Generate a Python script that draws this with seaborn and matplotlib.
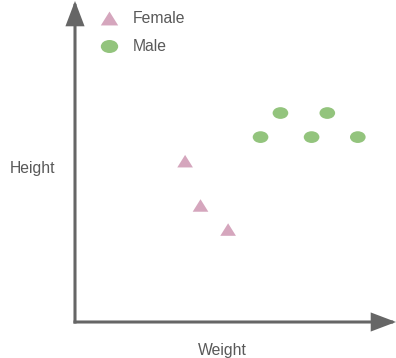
import matplotlib
matplotlib.use("Agg")
import matplotlib.pyplot as plt
import seaborn as sns
import pandas as pd
from matplotlib.path import Path
from matplotlib.transforms import Affine2D
from matplotlib.patches import ArrowStyle

# --- DATA ---
sexes = ["Female", "Male"]
female_weight = [34.3, 39.1, 47.7]
female_height = [50.1, 36.3, 28.8]
male_weight = [64.0, 78.6, 57.8, 73.7, 88.1]
male_height = [65.1, 65.1, 57.6, 57.6, 57.6]

PINK = "#d5a6bd"
GREEN = "#93c47d"
AXIS_GREY = "#666666"
TEXT_GREY = "#595959"

df = pd.DataFrame({
    "Weight": female_weight + male_weight,
    "Height": female_height + male_height,
    "sex": ["Female"] * len(female_weight) + ["Male"] * len(male_weight),
})

# --- MARKERS ---
triangle = Path([(0, 0.8), (-1, -0.8), (1, -0.8), (0, 0.8)],
                [Path.MOVETO, Path.LINETO, Path.LINETO, Path.CLOSEPOLY])
ellipse = Affine2D().scale(1, 0.75).transform_path(Path.unit_circle())

# --- PLOT ---
sns.set_style("white")
plt.rcParams["font.family"] = ["Liberation Sans", "DejaVu Sans"]

fig = plt.figure(figsize=(3.96, 3.58), dpi=100)
ax = fig.add_axes([75 / 396, 36 / 358, 321 / 396, 321 / 358])

sns.scatterplot(data=df, x="Weight", y="Height", hue="sex", style="sex",
                hue_order=sexes, style_order=sexes,
                palette={"Female": PINK, "Male": GREEN},
                markers={"Female": triangle, "Male": ellipse},
                s=127, linewidth=0, ax=ax)

ax.set_xlim(0, 100)
ax.set_ylim(0, 100)
ax.set_xticks([])
ax.set_yticks([])
sns.despine(ax=ax, left=True, bottom=True)

# axis arrows
style = ArrowStyle("-|>", head_length=14, head_width=5.3)
for end in [(1, 0), (0, 1)]:
    ax.annotate("", xy=end, xycoords="axes fraction",
                xytext=(0, 0), textcoords="axes fraction",
                arrowprops=dict(arrowstyle=style, color=AXIS_GREY, lw=2.2,
                                mutation_scale=1, shrinkA=0, shrinkB=0,
                                capstyle="projecting", joinstyle="miter"))

ax.set_xlabel("Weight", fontsize=11.3, color=TEXT_GREY)
ax.xaxis.set_label_coords((222 - 75) / 321, (322 - 350) / 321)
ax.xaxis.label.set_va("center")
ax.set_ylabel("Height", fontsize=11.3, color=TEXT_GREY, rotation=0,
              ha="center", va="center")
ax.yaxis.set_label_coords((32.5 - 75) / 321, (322 - 169) / 321)

sns.move_legend(ax, "upper left", bbox_to_anchor=(101 / 396, 1 - 11 / 358),
                bbox_transform=fig.transFigure, frameon=False, title=None,
                fontsize=11.3, handlelength=1.0, handletextpad=1.0,
                labelspacing=0.85, borderpad=0, borderaxespad=0)
leg = ax.get_legend()
for t in leg.get_texts():
    t.set_color(TEXT_GREY)
for h in leg.legend_handles:
    h.set_markersize(12.5)

fig.savefig("out.png", dpi=100)
